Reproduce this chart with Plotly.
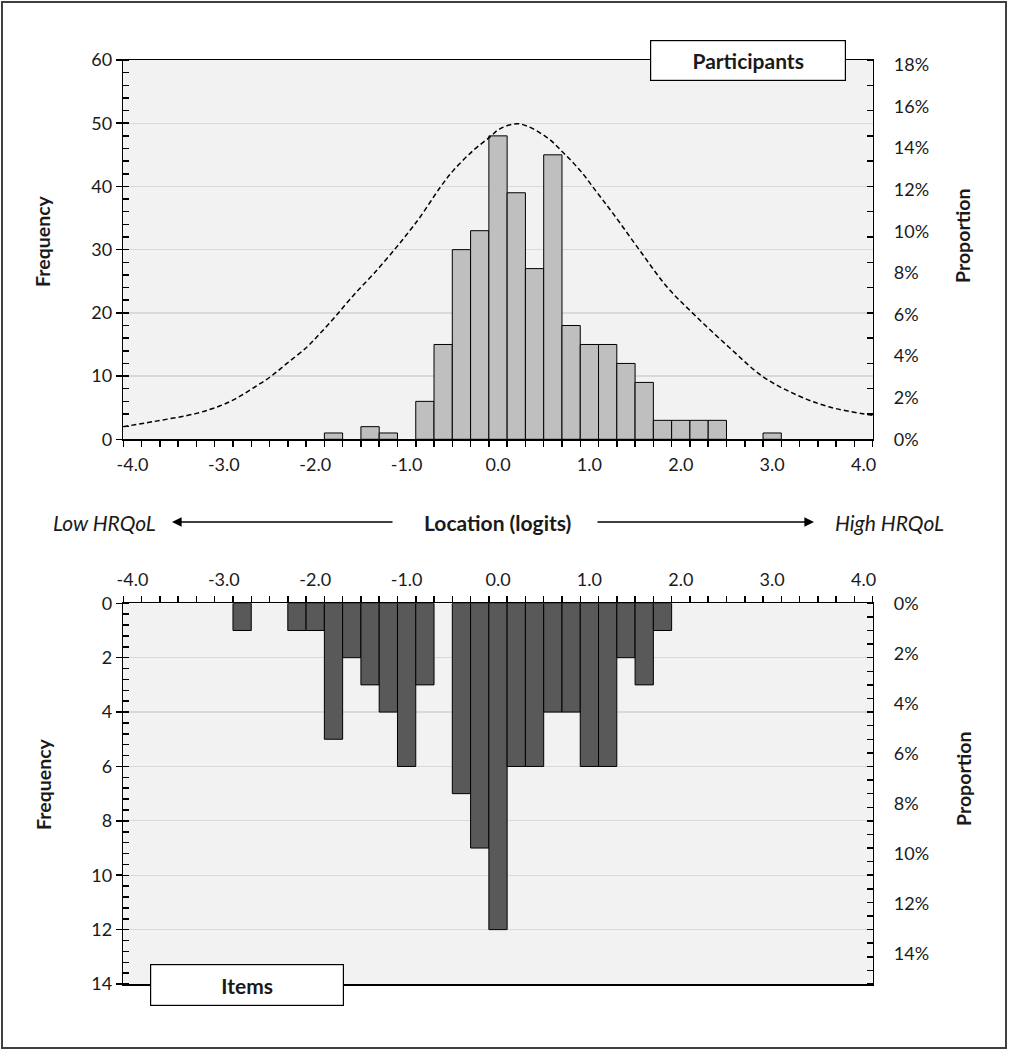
import plotly.graph_objects as go

# ---------------- data ----------------
x_tick_vals = [-4, -3, -2, -1, 0, 1, 2, 3, 4]
x_tick_labels = ["-4.0", "-3.0", "-2.0", "-1.0", "0.0", "1.0", "2.0", "3.0", "4.0"]

participants_x = [-1.8, -1.4, -1.2, -0.8, -0.6, -0.4, -0.2, 0.0, 0.2, 0.4, 0.6,
                  0.8, 1.0, 1.2, 1.4, 1.6, 1.8, 2.0, 2.2, 2.4, 3.0]
participants_n = [1, 2, 1, 6, 15, 30, 33, 48, 39, 27, 45,
                  18, 15, 15, 12, 9, 3, 3, 3, 3, 1]

items_x = [-2.8, -2.2, -2.0, -1.8, -1.6, -1.4, -1.2, -1.0, -0.8, -0.4, -0.2,
           0.0, 0.2, 0.4, 0.6, 0.8, 1.0, 1.2, 1.4, 1.6, 1.8]
items_n = [1, 1, 1, 5, 2, 3, 4, 6, 3, 7, 9,
           12, 6, 6, 4, 4, 6, 6, 2, 3, 1]

# dashed reference curve
curve_x = [-4.1, -3.77, -3.30, -3.04, -2.86, -2.68, -2.49, -2.31, -2.09, -1.95,
           -1.77, -1.58, -1.36, -1.11, -0.96, -0.85, -0.63, -0.49, -0.27, -0.09,
           0.02, 0.23, 0.53, 0.71, 0.90, 1.08, 1.26, 1.55, 1.85, 2.17,
           2.54, 2.90, 3.27, 3.63, 4.10]
curve_y = [2.0, 2.8, 4.1, 5.3, 6.5, 8.1, 9.9, 12.0, 14.6, 16.7,
           19.6, 22.8, 26.2, 30.4, 33.1, 35.2, 39.9, 42.5, 45.7, 47.8,
           49.1, 49.9, 47.8, 45.4, 42.5, 39.1, 35.7, 29.9, 24.1, 19.4,
           14.4, 9.9, 7.0, 5.1, 3.8]

top_freq_ticks = [0, 10, 20, 30, 40, 50, 60]
top_prop_ticks = [0, 2, 4, 6, 8, 10, 12, 14, 16, 18]
bot_freq_ticks = [0, 2, 4, 6, 8, 10, 12, 14]
bot_prop_ticks = [0, 2, 4, 6, 8, 10, 12, 14]

# ---------------- layout helpers ----------------
W, H = 1009, 1050
FONT = "Lato"
TXT = "#1a1a1a"

def px_x(p):
    return p / W

def px_y(p):
    return 1 - p / H

n_part = sum(participants_n)
n_item = sum(items_n)

x_dom = [px_x(123.3), px_x(872.7)]
top_dom = [px_y(439.3), px_y(60)]
bot_dom = [px_y(984), px_y(603.3)]

bin_edges = [round(-4.1 + 0.2 * k, 2) for k in range(42)]

fig = go.Figure()

fig.add_trace(go.Bar(x=participants_x, y=participants_n, width=0.2,
                     marker=dict(color="#bfbfbf", line=dict(color="black", width=1)),
                     xaxis="x", yaxis="y", showlegend=False, hoverinfo="skip"))
fig.add_trace(go.Scatter(x=curve_x, y=curve_y, mode="lines",
                         line=dict(color="black", width=1.5, dash="5px,3px", shape="spline"),
                         xaxis="x", yaxis="y", showlegend=False, hoverinfo="skip"))
fig.add_trace(go.Bar(x=items_x, y=items_n, width=0.2,
                     marker=dict(color="#595959", line=dict(color="black", width=1)),
                     xaxis="x2", yaxis="y3", showlegend=False, hoverinfo="skip"))

tickfont = dict(family=FONT, size=18, color=TXT)

def xaxis_cfg(anchor, side, mirror_line=True):
    return dict(domain=x_dom, anchor=anchor, side=side, range=[-4.1, 4.1],
                tickmode="array", tickvals=x_tick_vals, ticktext=x_tick_labels,
                ticks="", tickfont=tickfont, ticklabelstandoff=9,
                minor=dict(tickmode="array", tickvals=bin_edges, ticks="outside",
                           ticklen=6, tickwidth=1.5, tickcolor="black"),
                showgrid=False, zeroline=False, showline=True, linecolor="black",
                linewidth=1.5, mirror=mirror_line, fixedrange=True, automargin=False)

def yleft_cfg(domain, anchor, rng, ticks, minor_step):
    lo, hi = min(rng), max(rng)
    minor_vals = []
    v = lo
    while v <= hi + 1e-9:
        minor_vals.append(round(v, 4) + 0.001)
        v += minor_step
    return dict(domain=domain, anchor=anchor, range=rng, tickmode="array",
                tickvals=ticks, ticks="outside", ticklen=6, tickwidth=1.5,
                tickcolor="black", tickfont=tickfont,
                minor=dict(tickmode="array", tickvals=minor_vals, ticks="inside",
                           ticklen=6, tickwidth=1.5, tickcolor="black"),
                showgrid=True, gridcolor="#d9d9d9", gridwidth=1.3,
                zeroline=False, showline=True, linecolor="black", linewidth=1.5,
                fixedrange=True, automargin=False)

def yright_cfg(overlay, anchor, rng, ticks, minor_step):
    lo, hi = min(rng), max(rng)
    minor_vals = []
    v = lo
    while v <= hi + 1e-9:
        minor_vals.append(round(v, 5))
        v += minor_step
    return dict(overlaying=overlay, anchor=anchor, side="right", range=rng,
                tickmode="array", tickvals=ticks,
                ticktext=[f"{t}%" for t in ticks], ticks="", tickfont=tickfont,
                ticklabelstandoff=16,
                minor=dict(tickmode="array", tickvals=minor_vals, ticks="inside",
                           ticklen=6, tickwidth=1.5, tickcolor="black"),
                showgrid=False, zeroline=False, showline=True, linecolor="black",
                linewidth=1.5, fixedrange=True, automargin=False)

fig.update_layout(
    width=W, height=H, autosize=False,
    margin=dict(l=0, r=0, t=0, b=0, pad=0, autoexpand=False),
    paper_bgcolor="white",
    plot_bgcolor="#f2f2f2",
    bargap=0,
    showlegend=False,
    hovermode=False,
    font=dict(family=FONT, color=TXT),
    xaxis=xaxis_cfg("y", "bottom"),
    yaxis=yleft_cfg(top_dom, "x", [0, 60], top_freq_ticks, 2),
    yaxis2=yright_cfg("y", "x", [0, 6000 / n_part], top_prop_ticks, 400 / n_part),
    xaxis2=xaxis_cfg("y3", "top"),
    yaxis3=yleft_cfg(bot_dom, "x2", [14, 0], bot_freq_ticks, 0.4),
    yaxis4=yright_cfg("y3", "x2", [1400 / n_item, 0], bot_prop_ticks, 50 / n_item),
)

# invisible traces so yaxis2 / yaxis4 render
fig.add_trace(go.Scatter(x=[None], y=[None], xaxis="x", yaxis="y2", showlegend=False))
fig.add_trace(go.Scatter(x=[None], y=[None], xaxis="x2", yaxis="y4", showlegend=False))

ann = []
bold_title = dict(family=FONT, size=19.5, color=TXT)
bold_mid = dict(family=FONT, size=21, color=TXT)
ital = dict(family=FONT, size=21, color=TXT)

def txt(text, x, y, font, angle=0, **kw):
    d = dict(text=text, x=px_x(x), y=px_y(y), xref="paper", yref="paper",
             showarrow=False, textangle=angle, font=font,
             xanchor="center", yanchor="middle")
    d.update(kw)
    return d

ann.append(txt("<b>Frequency</b>", 43, 241, bold_title, -90))
ann.append(txt("<b>Frequency</b>", 43, 784, bold_title, -90))
ann.append(txt("<b>Proportion</b>", 963, 236, bold_title, -90))
ann.append(txt("<b>Proportion</b>", 963, 779, bold_title, -90))

ann.append(txt("<b>Participants</b>", 747.5, 60, bold_mid, bgcolor="white", bordercolor="black",
               borderwidth=1.2, borderpad=0, width=194, height=39))
ann.append(txt("<b>Items</b>", 247, 985, bold_mid, bgcolor="white", bordercolor="black",
               borderwidth=1.2, borderpad=0, width=192, height=40))

ann.append(txt("<i>Low HRQoL</i>", 104, 522, ital))
ann.append(txt("<b>Location (logits)</b>", 497, 522, bold_mid))
ann.append(txt("<i>High HRQoL</i>", 889, 522, ital))

# arrows
ann.append(dict(text="", x=px_x(172), y=px_y(522), xref="paper", yref="paper",
                ax=222, ay=0, showarrow=True, arrowhead=2, arrowsize=1.2,
                arrowwidth=1.6, arrowcolor="black"))
ann.append(dict(text="", x=px_x(814), y=px_y(522), xref="paper", yref="paper",
                ax=-218, ay=0, showarrow=True, arrowhead=2, arrowsize=1.2,
                arrowwidth=1.6, arrowcolor="black"))

fig.update_layout(annotations=ann)

fig.add_shape(type="rect", xref="paper", yref="paper",
              x0=px_x(2), x1=px_x(1006), y0=px_y(1048), y1=px_y(2),
              line=dict(color="#404040", width=2), fillcolor="rgba(0,0,0,0)", layer="above")

fig.write_html("out.html",
               config={"displayModeBar": False, "staticPlot": True},
               post_script="document.body.style.margin='0px';"
                           "document.body.style.padding='0px';"
                           "document.body.style.overflow='hidden';")
